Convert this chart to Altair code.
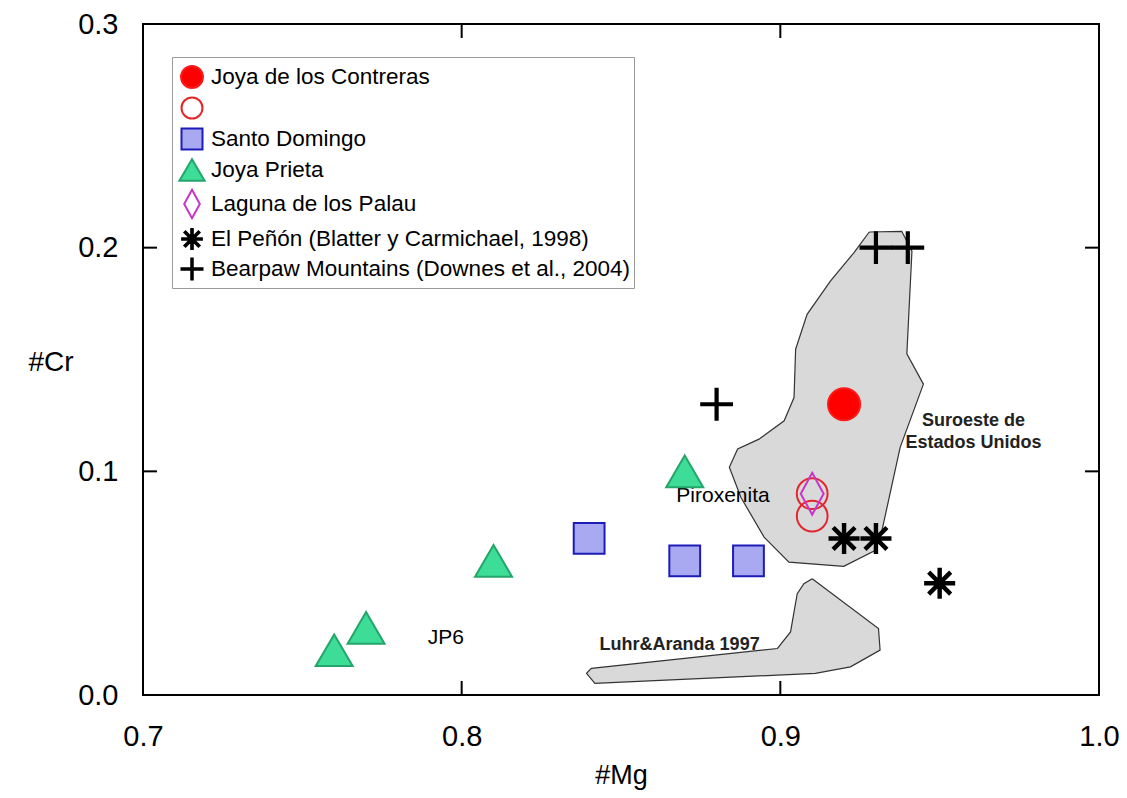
import math
import altair as alt
import pandas as pd

# ---------------- data ----------------
series_names = [
    "Joya de los Contreras",
    "JdC abierto",
    "Santo Domingo",
    "Joya Prieta",
    "Laguna de los Palau",
    "El Peñón (Blatter y Carmichael, 1998)",
    "Bearpaw Mountains (Downes et al., 2004)",
]

jdc_fill_x = [0.92]
jdc_fill_y = [0.13]
jdc_open_x = [0.91, 0.91]
jdc_open_y = [0.09, 0.08]
sd_x = [0.84, 0.87, 0.89]
sd_y = [0.07, 0.06, 0.06]
jp_x = [0.76, 0.77, 0.81, 0.87]
jp_y = [0.02, 0.03, 0.06, 0.10]
lp_x = [0.91]
lp_y = [0.09]
ep_x = [0.92, 0.93, 0.95]
ep_y = [0.07, 0.07, 0.05]
bp_x = [0.88, 0.93, 0.94]
bp_y = [0.13, 0.20, 0.20]

# field outlines
suro_x = [0.9279, 0.9381, 0.9413, 0.9397, 0.9449, 0.9376, 0.9319, 0.9297, 0.9199,
          0.9027, 0.8949, 0.8876, 0.8840, 0.8866, 0.8933, 0.9012, 0.9043, 0.9048,
          0.9084, 0.9157, 0.9230]
suro_y = [0.2070, 0.2073, 0.1984, 0.1525, 0.1390, 0.1107, 0.0736, 0.0646, 0.0575,
          0.0594, 0.0706, 0.0884, 0.1018, 0.1100, 0.1144, 0.1226, 0.1330, 0.1546,
          0.1702, 0.1850, 0.1976]
luhr_x = [0.9100, 0.9308, 0.9313, 0.9220, 0.9110, 0.8991, 0.8418, 0.8392, 0.8407,
          0.8991, 0.9032, 0.9053, 0.9074]
luhr_y = [0.0520, 0.0297, 0.0201, 0.0126, 0.0097, 0.0089, 0.0052, 0.0097, 0.0119,
          0.0208, 0.0282, 0.0453, 0.0498]

# annotations
note_text = ["Piroxenita", "JP6"]
note_x = [0.882, 0.795]
note_y = [0.089, 0.0254]
bold_text = ["Luhr&Aranda 1997", "Suroeste de", "Estados Unidos"]
bold_x = [0.8684, 0.9606, 0.9606]
bold_y = [0.0223, 0.1226, 0.1128]

x_ticks = [0.7, 0.8, 0.9, 1.0]
y_ticks = [0.0, 0.1, 0.2, 0.3]
x_inner = [0.8, 0.9]
y_inner = [0.1, 0.2]

# ---------------- styles ----------------
W, H = 956, 671
FONT = "Liberation Sans"
TICK = 14


def bar_path(angle_deg, L, t):
    a = math.radians(angle_deg)
    c, s = math.cos(a), math.sin(a)
    pts = [(-L, -t), (L, -t), (L, t), (-L, t)]
    rp = [(px * c - py * s, px * s + py * c) for px, py in pts]
    return "M" + "L".join(f"{px:.3f},{py:.3f}" for px, py in rp) + "Z"


r = 0.73
circle_path = f"M{r},0A{r},{r},0,1,1,{-r},0A{r},{r},0,1,1,{r},0Z"
ro = 0.70
open_circle_path = f"M{ro},0A{ro},{ro},0,1,1,{-ro},0A{ro},{ro},0,1,1,{ro},0Z"
square_path = "M-0.70,-0.70L0.70,-0.70L0.70,0.70L-0.70,0.70Z"
triangle_path = "M0,-0.72L0.84,0.72L-0.84,0.72Z"
diamond_path = "M0,-0.95L0.52,0L0,0.95L-0.52,0Z"
asterisk_path = "".join(bar_path(a, 0.66, 0.055) for a in (0, 45, 90, 135))
plus_path = bar_path(0, 0.70, 0.05) + bar_path(90, 0.70, 0.05)

shapes = [circle_path, open_circle_path, square_path, triangle_path,
          diamond_path, asterisk_path, plus_path]
fills = ["#ff0000", "transparent", "#a9a9f2", "#3ddc97", "transparent", "black", "black"]
strokes = ["#ff1a1a", "#e3262b", "#1c1cb8", "#24a56a", "#c736c8", "black", "black"]

# ---------------- tables ----------------
rows = []
for name, xs, ys in [
    (series_names[0], jdc_fill_x, jdc_fill_y),
    (series_names[1], jdc_open_x, jdc_open_y),
    (series_names[2], sd_x, sd_y),
    (series_names[3], jp_x, jp_y),
    (series_names[4], lp_x, lp_y),
    (series_names[5], ep_x, ep_y),
    (series_names[6], bp_x, bp_y),
]:
    for xv, yv in zip(xs, ys):
        rows.append({"serie": name, "mg": xv, "cr": yv})
pts = pd.DataFrame(rows)

poly_rows = []
for pid, xs, ys in [("suro", suro_x, suro_y), ("luhr", luhr_x, luhr_y)]:
    xs2 = xs + [xs[0]]
    ys2 = ys + [ys[0]]
    for i, (xv, yv) in enumerate(zip(xs2, ys2)):
        poly_rows.append({"poly": pid, "ord": i, "mg": xv, "cr": yv})
polys = pd.DataFrame(poly_rows)

notes = pd.DataFrame({"t": note_text, "mg": note_x, "cr": note_y})
bnotes = pd.DataFrame({"t": bold_text, "mg": bold_x, "cr": bold_y})
xin = pd.DataFrame({"mg": x_inner})
yin = pd.DataFrame({"cr": y_inner})

xs_scale = alt.Scale(domain=[0.7, 1.0], nice=False, zero=False)
ys_scale = alt.Scale(domain=[0.0, 0.3], nice=False, zero=False)

x_axis = alt.Axis(values=x_ticks, format=".1f", title="#Mg", ticks=False, tickSize=0,
                  domain=False, grid=False, labelFontSize=29, labelFont=FONT,
                  labelColor="black", labelPadding=27, labelFlush=False,
                  labelOverlap=False, titleFontSize=27, titleFont=FONT,
                  titleFontWeight="normal", titleColor="black",
                  titleBaseline="alphabetic", titleY=88)
y_axis = alt.Axis(values=y_ticks, format=".1f", title="#Cr", ticks=False, tickSize=0,
                  domain=False, grid=False, labelFontSize=29, labelFont=FONT,
                  labelColor="black", labelPadding=25, labelFlush=False,
                  labelOverlap=False, titleFontSize=28, titleFont=FONT,
                  titleFontWeight="normal", titleColor="black", titleAngle=0,
                  titleAlign="left", titleBaseline="alphabetic", titleX=-115,
                  titleY=346)


def X():
    return alt.X("mg:Q", scale=xs_scale, axis=x_axis)


def Y():
    return alt.Y("cr:Q", scale=ys_scale, axis=y_axis)


legend = alt.Legend(
    title=None, orient="none", legendX=29, legendY=33, padding=4,
    strokeColor="#9a9a9a", fillColor="white",
    labelFont=FONT, labelFontSize=22.5, labelColor="black", labelLimit=700,
    labelOffset=3, symbolSize=900, symbolStrokeWidth=2, symbolOpacity=1,
    rowPadding=0,
    labelExpr="datum.value == 'JdC abierto' ? '' : datum.label",
)

polygon_layer = alt.Chart(polys).mark_line(
    fill="#d9d9d9", stroke="#333333", strokeWidth=1.2
).encode(x=X(), y=Y(), order="ord:Q", detail="poly:N")

tick_b = alt.Chart(xin).mark_rule(color="black", strokeWidth=2).encode(
    x=X(), y=alt.value(H), y2=alt.value(H - TICK))
tick_t = alt.Chart(xin).mark_rule(color="black", strokeWidth=2).encode(
    x=X(), y=alt.value(0), y2=alt.value(TICK))
tick_l = alt.Chart(yin).mark_rule(color="black", strokeWidth=2).encode(
    y=Y(), x=alt.value(0), x2=alt.value(TICK))
tick_r = alt.Chart(yin).mark_rule(color="black", strokeWidth=2).encode(
    y=Y(), x=alt.value(W), x2=alt.value(W - TICK))

note_layer = alt.Chart(notes).mark_text(
    font=FONT, fontSize=21, color="black", align="center", baseline="middle"
).encode(x=X(), y=Y(), text="t:N")
bold_layer = alt.Chart(bnotes).mark_text(
    font=FONT, fontSize=18, fontWeight="bold", color="#222222", align="center",
    baseline="middle"
).encode(x=X(), y=Y(), text="t:N")

point_layer = alt.Chart(pts).mark_point(
    size=1936, strokeWidth=2, opacity=1, filled=True
).encode(
    x=X(), y=Y(),
    shape=alt.Shape("serie:N", scale=alt.Scale(domain=series_names, range=shapes), legend=legend),
    fill=alt.Fill("serie:N", scale=alt.Scale(domain=series_names, range=fills), legend=legend),
    stroke=alt.Stroke("serie:N", scale=alt.Scale(domain=series_names, range=strokes), legend=legend),
)

chart = alt.layer(
    polygon_layer, tick_b, tick_t, tick_l, tick_r, note_layer, bold_layer, point_layer
).properties(
    width=W, height=H,
    autosize=alt.AutoSizeParams(type="none"),
    padding={"left": 135, "top": 16, "right": 20, "bottom": 95},
).configure(
    background="white",
    view=alt.ViewConfig(stroke="black", strokeWidth=2),
)

chart.save("out.html", embed_options={"renderer": "svg", "actions": False})
